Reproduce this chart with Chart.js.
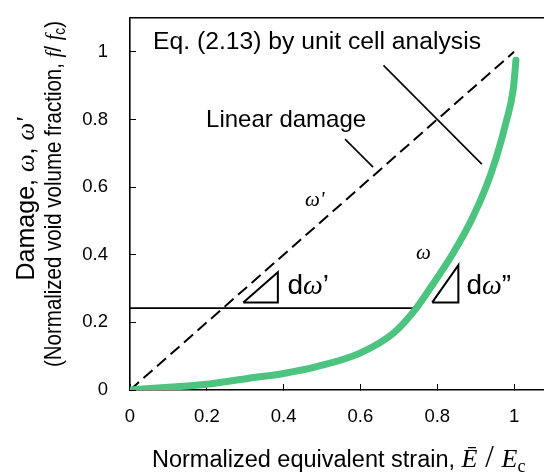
<!DOCTYPE html>
<html>
<head>
<meta charset="utf-8">
<script src="https://cdn.jsdelivr.net/npm/chart.js@4.4.1/dist/chart.umd.min.js"></script>
<style>
  html, body { margin: 0; padding: 0; background: #fff; }
  #wrap { width: 544px; height: 475px; position: relative; }
</style>
</head>
<body>
<div id="wrap"><canvas id="chart"></canvas></div>
<script>
// unit cell curve (omega)
const strain = [0, 0.1, 0.2, 0.31, 0.4, 0.486, 0.599, 0.686, 0.742, 0.781, 0.842, 0.89, 0.927, 0.955, 0.979, 0.998, 1.005];
const damage = [0, 0.008, 0.017, 0.035, 0.049, 0.069, 0.109, 0.168, 0.237, 0.30, 0.406, 0.505, 0.60, 0.692, 0.791, 0.89, 0.975];
// linear damage (omega')
const linearStrain = [0, 1];
const linearDamage = [0, 1];
// horizontal reference level
const levelStrain = [0, 0.746];
const levelDamage = [0.242, 0.242];
// leader lines to the labels
const leaderLinearX = [0.56, 0.633];
const leaderLinearY = [0.742, 0.659];
const leaderEqX = [0.66, 0.916];
const leaderEqY = [0.96, 0.668];
// slope triangles
const triPrimeX = [0.295, 0.385, 0.385, 0.295];
const triPrimeY = [0.259, 0.259, 0.348, 0.259];
const triDoubleX = [0.787, 0.855, 0.855, 0.787];
const triDoubleY = [0.259, 0.259, 0.369, 0.259];
// ticks
const xTicks = [0, 0.2, 0.4, 0.6, 0.8, 1];
const yTicks = [0, 0.2, 0.4, 0.6, 0.8, 1];

const SANS = '"Liberation Sans", Arial, sans-serif';
const SERIF = '"Liberation Serif", "Times New Roman", serif';

const pts = (xs, ys) => xs.map((x, i) => ({ x, y: ys[i] }));

function line(data, extra) {
  return Object.assign({
    data, showLine: true, borderColor: "#000", borderWidth: 1.6,
    pointRadius: 0, fill: false, tension: 0,
  }, extra || {});
}

// draws a row of differently styled text pieces; if fitWidth is given the
// row is squeezed along its direction to that length (centred on x)
function drawRuns(ctx, runs, x, y, align, fitWidth) {
  let w = 0;
  runs.forEach((r) => { ctx.font = r.font; w += ctx.measureText(r.text).width; });
  ctx.save();
  ctx.translate(x, y);
  if (fitWidth) ctx.scale(fitWidth / w, 1);
  let cx = align === "center" ? -w / 2 : 0;
  runs.forEach((r) => {
    ctx.font = r.font;
    ctx.fillText(r.text, cx, r.dy || 0);
    cx += ctx.measureText(r.text).width;
  });
  ctx.restore();
}

const labels = {
  id: "labels",
  afterDraw(chart) {
    const { ctx, scales } = chart;
    const px = (v) => scales.x.getPixelForValue(v);
    const py = (v) => scales.y.getPixelForValue(v);
    ctx.save();
    ctx.fillStyle = "#000";
    ctx.textBaseline = "alphabetic";
    ctx.textAlign = "left";

    drawRuns(ctx, [{ text: "Eq. (2.13) by unit cell analysis", font: "24.7px " + SANS }], px(0.06), py(1.009));
    drawRuns(ctx, [{ text: "Linear damage", font: "24px " + SANS }], px(0.198), py(0.777));
    drawRuns(ctx, [{ text: "ω'", font: "italic 21px " + SERIF }], px(0.456), py(0.543));
    drawRuns(ctx, [{ text: "ω", font: "italic 21px " + SERIF }], px(0.745), py(0.386));
    drawRuns(ctx, [
      { text: "d", font: "28px " + SANS },
      { text: "ω", font: "italic 28px " + SERIF },
      { text: "’", font: "28px " + SANS },
    ], px(0.41), py(0.284));
    drawRuns(ctx, [
      { text: "d", font: "28px " + SANS },
      { text: "ω", font: "italic 28px " + SERIF },
      { text: "”", font: "28px " + SANS },
    ], px(0.876), py(0.284));

    // x axis title
    drawRuns(ctx, [
      { text: "Normalized equivalent strain, ", font: "23.5px " + SANS },
      { text: "Ē", font: "italic 26px " + SERIF },
      { text: " / ", font: "31px " + SERIF },
      { text: "E", font: "italic 26px " + SERIF },
      { text: "c", font: "18px " + SERIF, dy: 5 },
    ], 152, 467);

    // y axis title, two rotated lines
    ctx.rotate(-Math.PI / 2);
    drawRuns(ctx, [
      { text: "Damage, ", font: "25px " + SANS },
      { text: "ω", font: "italic 25px " + SERIF },
      { text: ", ", font: "25px " + SANS },
      { text: "ω'", font: "italic 25px " + SERIF },
    ], -199, 34, "center");
    drawRuns(ctx, [
      { text: "(Normalized void volume fraction, ", font: "24px " + SANS },
      { text: "f", font: "italic 24px " + SERIF },
      { text: "/ ", font: "24px " + SANS },
      { text: "f", font: "italic 24px " + SERIF },
      { text: "c", font: "16px " + SANS, dy: 4 },
      { text: ")", font: "24px " + SANS },
    ], -194, 61, "center", 346);
    ctx.restore();
  },
};

new Chart(document.getElementById("chart"), {
  type: "scatter",
  data: {
    datasets: [
      line(pts(strain, damage), {
        borderColor: "#4cc480", borderWidth: 7, cubicInterpolationMode: "monotone",
        borderCapStyle: "round",
      }),
      line(pts(linearStrain, linearDamage), { borderDash: [12, 6], borderWidth: 2 }),
      line(pts(levelStrain, levelDamage)),
      line(pts(leaderLinearX, leaderLinearY)),
      line(pts(leaderEqX, leaderEqY)),
      line(pts(triPrimeX, triPrimeY), { borderWidth: 2 }),
      line(pts(triDoubleX, triDoubleY), { borderWidth: 2 }),
    ],
  },
  options: {
    responsive: true,
    maintainAspectRatio: false,
    animation: false,
    layout: { padding: 0 },
    plugins: { legend: { display: false }, tooltip: { enabled: false } },
    scales: {
      x: {
        type: "linear", position: "bottom", min: 0, max: 1.078,
        afterBuildTicks: (axis) => { axis.ticks = xTicks.map((v) => ({ value: v })); },
        afterFit: (axis) => { axis.height = 85; axis.paddingLeft = 0; axis.paddingRight = 0; },
        ticks: { color: "#000", font: { family: SANS, size: 18.5 }, padding: 22, maxRotation: 0, callback: (v) => String(v) },
        grid: { drawOnChartArea: false, drawTicks: true, tickLength: -6, color: "#000", lineWidth: 1 },
        border: { display: true, color: "#000", width: 1.6 },
      },
      top: {
        type: "linear", position: "top", min: 0, max: 1.078,
        ticks: { display: false },
        grid: { display: false },
        border: { display: true, color: "#000", width: 1.6 },
        afterFit: (axis) => { axis.height = 18; axis.paddingLeft = 0; axis.paddingRight = 0; },
      },
      y: {
        type: "linear", position: "left", min: 0, max: 1.10,
        afterBuildTicks: (axis) => { axis.ticks = yTicks.map((v) => ({ value: v })); },
        afterFit: (axis) => { axis.width = 130; axis.paddingTop = 0; axis.paddingBottom = 0; },
        ticks: { color: "#000", font: { family: SANS, size: 18.5 }, padding: 28, callback: (v) => String(v) },
        grid: { drawOnChartArea: false, drawTicks: true, tickLength: -6, color: "#000", lineWidth: 1 },
        border: { display: true, color: "#000", width: 1.6 },
      },
    },
  },
  plugins: [labels],
});
</script>
</body>
</html>
